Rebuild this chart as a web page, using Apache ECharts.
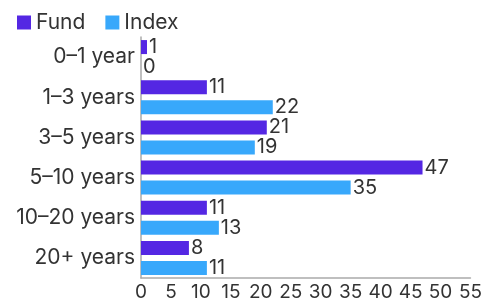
<!DOCTYPE html>
<html><head><meta charset="utf-8">
<script src="https://cdn.jsdelivr.net/npm/echarts@6/dist/echarts.min.js"></script>
<style>html,body{margin:0;padding:0;background:#fff}#c{width:485px;height:302px}</style>
</head><body><div id="c"></div>
<script>
const categories = ['0–1 year','1–3 years','3–5 years','5–10 years','10–20 years','20+ years'];
const fundValues = [1, 11, 21, 47, 11, 8];
const indexValues = [0, 22, 19, 35, 13, 11];
const xTicks = {min: 0, max: 55, interval: 5};
const FONT = 'Inter';
const chart = echarts.init(document.getElementById('c'), null, {renderer: 'canvas'});
const lbl = {show: true, position: 'right', distance: 2, color: '#333', fontSize: 20, fontFamily: FONT};
chart.setOption({
  animation: false,
  textStyle: {fontFamily: FONT},
  legend: {
    left: 12, top: 7, itemWidth: 14, itemHeight: 14, itemGap: 20,
    icon: 'rect',
    textStyle: {fontSize: 21, color: '#333', fontFamily: FONT},
    data: ['Fund','Index']
  },
  grid: {left: 141, right: 11, top: 37, bottom: 24, containLabel: false},
  xAxis: {
    type: 'value', min: xTicks.min, max: xTicks.max, interval: xTicks.interval,
    axisLine: {show: true, lineStyle: {color: '#aaa', width: 1.5}},
    axisTick: {show: false}, splitLine: {show: false},
    axisLabel: {color: '#333', fontSize: 19, fontFamily: FONT, margin: 5}
  },
  yAxis: {
    type: 'category', data: categories, inverse: true,
    axisLine: {show: true, lineStyle: {color: '#aaa', width: 1.5}},
    axisTick: {show: false},
    axisLabel: {color: '#333', fontSize: 21, fontFamily: FONT, margin: 6}
  },
  series: [
    {name: 'Fund', type: 'bar', data: fundValues, barWidth: 14, barGap: '43%', itemStyle: {color: '#5427e3'}, label: lbl},
    {name: 'Index', type: 'bar', data: indexValues, barWidth: 14, itemStyle: {color: '#38a8fb'}, label: lbl}
  ]
});
</script></body></html>
